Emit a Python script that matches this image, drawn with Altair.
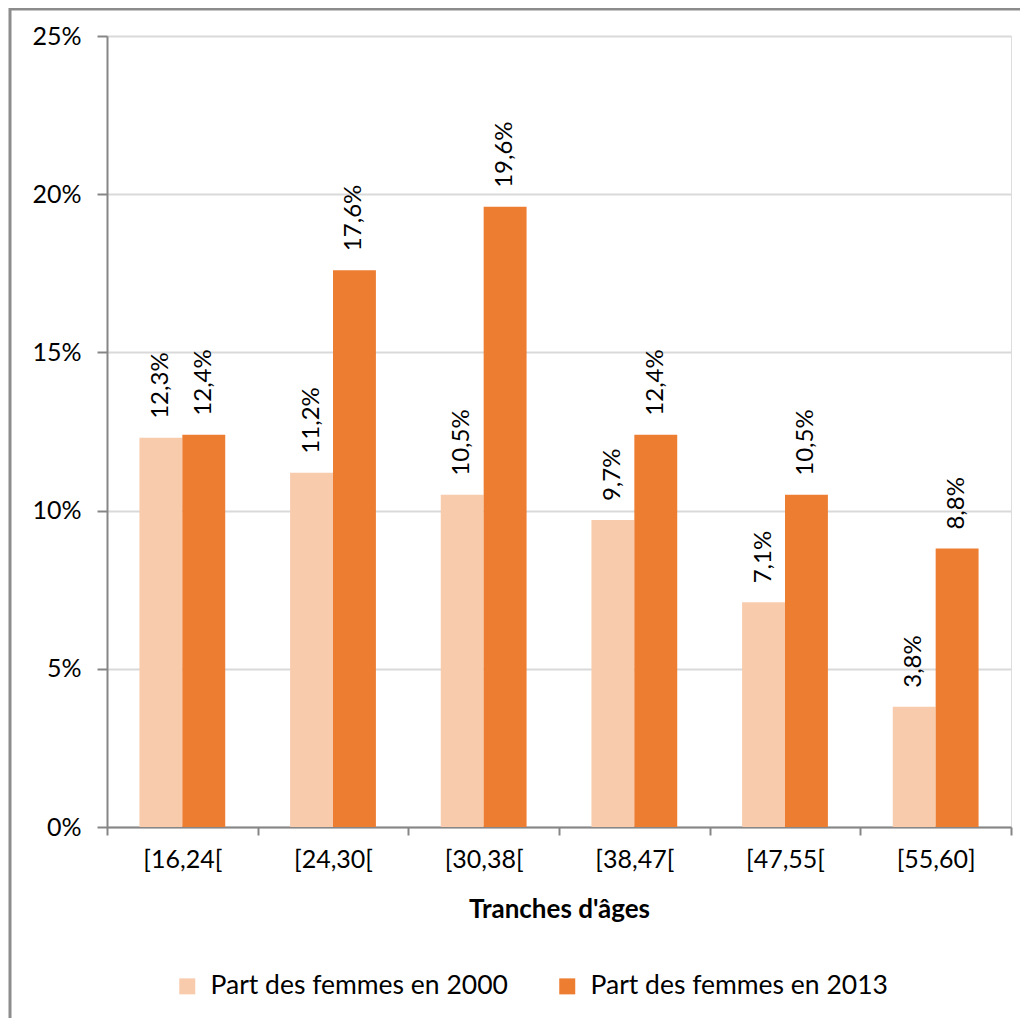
import altair as alt
import pandas as pd

categories = ["[16,24[", "[24,30[", "[30,38[", "[38,47[", "[47,55[", "[55,60]"]
series = ["Part des femmes en 2000", "Part des femmes en 2013"]
values_2000 = [12.3, 11.2, 10.5, 9.7, 7.1, 3.8]
values_2013 = [12.4, 17.6, 19.6, 12.4, 10.5, 8.8]
y_ticks = [0, 5, 10, 15, 20, 25]

rows = []
for c, a, b in zip(categories, values_2000, values_2013):
    rows.append({"cat": c, "serie": series[0], "val": a,
                 "lab": f"{a:.1f}".replace(".", ",") + "%"})
    rows.append({"cat": c, "serie": series[1], "val": b,
                 "lab": f"{b:.1f}".replace(".", ",") + "%"})
df = pd.DataFrame(rows)

FONT = "Lato"
W, H = 904, 791

x_enc = alt.X("cat:N", sort=categories,
              scale=alt.Scale(paddingInner=0, paddingOuter=0),
              axis=alt.Axis(title="Tranches d'âges", labelAngle=0,
                            tickBand="extent", tickSize=8, tickWidth=2,
                            tickColor="#868686", domainColor="#868686",
                            domainWidth=2, labelFontSize=25, labelFont=FONT,
                            labelColor="#000000", labelPadding=12,
                            titleFont=FONT, titleFontSize=26, titleFontWeight="bold",
                            titleColor="#000000", titlePadding=24, grid=False))
xoff = alt.XOffset("serie:N", sort=series,
                   scale=alt.Scale(paddingInner=0, paddingOuter=0.756))
y_enc = alt.Y("val:Q", scale=alt.Scale(domain=[0, 25], nice=False),
              axis=alt.Axis(values=y_ticks, labelExpr="datum.value + '%'",
                            title=None, tickSize=10, tickWidth=2,
                            tickColor="#868686", domainColor="#868686",
                            domainWidth=2, labelFontSize=25, labelFont=FONT,
                            labelColor="#000000", labelPadding=16,
                            gridColor="#D9D9D9", gridWidth=2))

color = alt.Color("serie:N", sort=series,
                  scale=alt.Scale(domain=series, range=["#F8CBAD", "#ED7D31"]),
                  legend=alt.Legend(title=None, orient="none", direction="horizontal",
                                    legendX=67, legendY=937, symbolType="square",
                                    symbolSize=256, symbolStrokeWidth=0,
                                    labelFont=FONT, labelFontSize=26.5, labelLimit=0,
                                    labelColor="#000000", columnPadding=46,
                                    labelOffset=10))

base = alt.Chart(df)
bars = base.mark_bar(strokeWidth=0).encode(
    x=x_enc, xOffset=xoff, y=y_enc, color=color)
text = base.mark_text(angle=270, align="left", baseline="middle", dx=19,
                      font=FONT, fontSize=24, color="#000000").encode(
    x=x_enc, xOffset=xoff, y=y_enc, text="lab:N")

deco = pd.DataFrame({"d": [0]})
top_border = alt.Chart(deco).mark_rule(color="#8C8C8C", strokeWidth=3).encode(
    x=alt.value(-97), x2=alt.value(W + 20), y=alt.value(-27))
left_border = alt.Chart(deco).mark_rule(color="#8C8C8C", strokeWidth=3).encode(
    x=alt.value(-97), y=alt.value(-28), y2=alt.value(H + 200))

chart = alt.layer(bars, text, top_border, left_border).properties(
    width=W, height=H,
    autosize=alt.AutoSizeParams(type="none"),
    padding={"left": 99, "top": 28, "right": 9, "bottom": 191},
).configure_view(stroke="#D9D9D9", strokeWidth=2).configure(background="white")

chart.save("out.html", embed_options={"renderer": "svg", "actions": False})
